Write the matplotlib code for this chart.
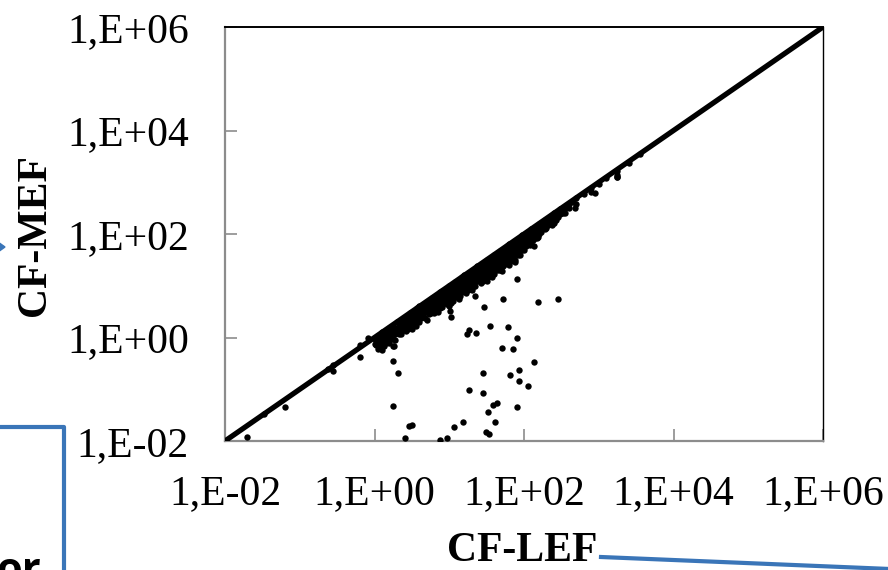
import numpy as np
import matplotlib.pyplot as plt
from matplotlib.lines import Line2D
from matplotlib.patches import Polygon
from matplotlib.ticker import FixedLocator, FixedFormatter

# limites de los ejes y etiquetas (estilo Excel, coma decimal)
lim = [1e-2, 1e6]
tick_vals = [1e-2, 1e0, 1e2, 1e4, 1e6]
tick_txt = ["1,E-02", "1,E+00", "1,E+02", "1,E+04", "1,E+06"]
x_title = "CF-LEF"
y_title = "CF-MEF"

# nube principal: log10(CF-LEF) y distancia (en decadas) por debajo de la recta 1:1
band = [
    (0.00, [0.02, 0.12]), (0.05, [0.05, 0.18, 0.28]), (0.10, [0.00, 0.10, 0.22, 0.35]),
    (0.15, [0.03, 0.14, 0.26]), (0.20, [0.01, 0.09, 0.20, 0.31]), (0.25, [0.04, 0.15, 0.27, 0.42]),
    (0.30, [0.00, 0.11, 0.21]), (0.35, [0.06, 0.17, 0.29]), (0.40, [0.02, 0.12, 0.24]),
    (0.45, [0.05, 0.15, 0.28]), (0.50, [0.01, 0.10, 0.20, 0.33]), (0.55, [0.04, 0.16, 0.26, 0.33]),
    (0.60, [0.00, 0.09, 0.19, 0.30]), (0.65, [0.03, 0.13, 0.24]), (0.70, [0.01, 0.11, 0.21, 0.36]),
    (0.75, [0.05, 0.16, 0.27]), (0.80, [0.02, 0.12, 0.22, 0.32]), (0.85, [0.04, 0.14, 0.25, 0.35]),
    (0.90, [0.00, 0.10, 0.20, 0.31]), (0.95, [0.03, 0.15, 0.26]), (1.00, [0.01, 0.09, 0.19, 0.29, 0.40]),
    (1.05, [0.05, 0.14, 0.24, 0.34]), (1.10, [0.02, 0.11, 0.21, 0.32]), (1.15, [0.04, 0.13, 0.23, 0.35]),
    (1.20, [0.00, 0.10, 0.20, 0.30]), (1.25, [0.03, 0.12, 0.22, 0.33]), (1.30, [0.01, 0.09, 0.18, 0.28, 0.38]),
    (1.35, [0.05, 0.15, 0.25, 0.35, 0.54]), (1.40, [0.02, 0.11, 0.21, 0.31]), (1.45, [0.04, 0.14, 0.24, 0.36]),
    (1.50, [0.00, 0.10, 0.19, 0.29, 0.40]), (1.55, [0.03, 0.13, 0.23, 0.33]), (1.60, [0.01, 0.09, 0.18, 0.27, 0.37]),
    (1.65, [0.05, 0.15, 0.25, 0.34]), (1.70, [0.02, 0.11, 0.20, 0.30, 0.42]), (1.75, [0.04, 0.14, 0.24, 0.33]),
    (1.80, [0.00, 0.09, 0.18, 0.28, 0.39]), (1.85, [0.03, 0.12, 0.22, 0.32]), (1.90, [0.01, 0.10, 0.19, 0.29]),
    (1.95, [0.05, 0.14, 0.24, 0.36]), (2.00, [0.02, 0.11, 0.21, 0.30]), (2.05, [0.04, 0.13, 0.23]),
    (2.10, [0.00, 0.09, 0.18, 0.27]), (2.15, [0.03, 0.12, 0.22]), (2.20, [0.01, 0.10, 0.20]),
    (2.25, [0.05, 0.14]), (2.30, [0.02, 0.11, 0.19]), (2.35, [0.04, 0.13]),
    (2.40, [0.00, 0.08, 0.18]), (2.45, [0.03, 0.12]), (2.50, [0.01, 0.09]),
    (2.55, [0.05, 0.15]), (2.60, [0.02, 0.10]), (2.65, [0.04]), (2.70, [0.01, 0.12]),
    (2.80, [0.03]), (2.90, [0.02, 0.09]), (3.00, [0.04]), (3.10, [0.01]),
    (3.25, [0.03, 0.14]), (3.40, [0.02]), (3.55, [0.00]),
    # relleno entre columnas (zona mas densa)
    (0.025, [0.07, 0.17]), (0.075, [0.03, 0.13, 0.24]), (0.125, [0.06, 0.17, 0.29]),
    (0.175, [0.08, 0.20]), (0.225, [0.05, 0.15, 0.25]), (0.275, [0.09, 0.21, 0.33]),
    (0.325, [0.05, 0.16, 0.26]), (0.375, [0.01, 0.11, 0.23]), (0.425, [0.07, 0.18, 0.30]),
    (0.475, [0.00, 0.10, 0.21]), (0.525, [0.06, 0.15, 0.26]), (0.575, [0.01, 0.10, 0.21]),
    (0.625, [0.05, 0.14, 0.25]), (0.675, [0.08, 0.18, 0.29]), (0.725, [0.05, 0.16, 0.28]),
    (0.775, [0.01, 0.10, 0.21]), (0.825, [0.07, 0.17, 0.27]), (0.875, [0.00, 0.09, 0.19, 0.30]),
    (0.925, [0.05, 0.15, 0.25]), (0.975, [0.08, 0.20, 0.33]), (1.025, [0.04, 0.14, 0.24, 0.35]),
    (1.075, [0.00, 0.09, 0.19, 0.29]), (1.125, [0.06, 0.16, 0.26, 0.38]), (1.175, [0.01, 0.08, 0.18, 0.29]),
    (1.225, [0.05, 0.15, 0.25, 0.36]), (1.275, [0.07, 0.17, 0.27]), (1.325, [0.04, 0.13, 0.23, 0.33]),
    (1.375, [0.00, 0.08, 0.19, 0.29]), (1.425, [0.06, 0.16, 0.26, 0.37]), (1.475, [0.02, 0.09, 0.19, 0.30]),
    (1.525, [0.05, 0.15, 0.25, 0.35]), (1.575, [0.08, 0.18, 0.28, 0.40]), (1.625, [0.04, 0.13, 0.22, 0.32]),
    (1.675, [0.00, 0.09, 0.19, 0.29, 0.38]), (1.725, [0.06, 0.16, 0.25, 0.35]), (1.775, [0.01, 0.09, 0.19, 0.29]),
    (1.825, [0.05, 0.14, 0.23, 0.34]), (1.875, [0.07, 0.17, 0.27, 0.37]), (1.925, [0.04, 0.14, 0.24, 0.33]),
    (1.975, [0.00, 0.09, 0.19, 0.29]), (2.025, [0.06, 0.16, 0.26]), (2.075, [0.01, 0.08, 0.18, 0.29]),
    (2.125, [0.05, 0.15, 0.24]), (2.175, [0.07, 0.16, 0.26]), (2.225, [0.02, 0.09, 0.18]),
    (2.275, [0.00, 0.08, 0.17]), (2.325, [0.06, 0.15]), (2.375, [0.01, 0.09, 0.20]),
    (2.425, [0.06, 0.15]), (2.475, [0.00, 0.08]), (2.525, [0.04, 0.12]),
]

# puntos sueltos (log10 CF-LEF, log10 CF-MEF)
sueltos_x = [-1.70, -1.48, -1.20, -0.62, -0.555, -0.555, -0.19, -0.087, -0.19,
             0.25, 0.31, 0.25, 0.46, 0.50, 0.41, 0.88, 0.97, 1.06, 1.18, 1.26,
             1.45, 1.45, 1.24, 1.26, 1.36, 1.46, 1.55, 1.52, 1.59, 1.64, 1.61,
             1.49, 1.53, 1.71, 1.72, 1.79, 1.81, 1.85, 1.91, 1.91, 1.93, 1.93,
             1.91, 2.05, 2.13, 2.13, 2.19, 2.45, 1.88, 2.19, 2.39, 2.68, 2.95,
             3.24, 3.24, 1.02, 1.01, 0.26]
sueltos_y = [-1.92, -1.47, -1.34, -0.61, -0.53, -0.65, -0.145, -0.01, -0.38,
             -0.45, -0.69, -1.32, -1.71, -1.69, -1.94, -1.98, -1.94, -1.73, -1.63, -1.01,
             -0.69, -1.07, 0.07, 0.15, 0.09, 0.59, 0.22, -1.44, -1.30, -1.27, -1.63,
             -1.83, -1.86, -0.20, 0.74, 0.20, -0.72, -0.22, 1.13, -0.01, -0.63, -0.84,
             -1.34, -0.94, -0.47, 1.77, 0.69, 0.74, 1.46, 1.94, 2.21, 2.50, 2.79,
             3.10, 3.14, 0.40, 0.51, -0.16]

lef = []
mef = []
for lx, gaps in band:
    for g in gaps:
        lef.append(10 ** lx)
        mef.append(10 ** (lx - g))
for a, b in zip(sueltos_x, sueltos_y):
    lef.append(10 ** a)
    mef.append(10 ** b)

W, H = 888, 570
fig = plt.figure(figsize=(W / 100, H / 100), dpi=100)
ax = fig.add_axes([225 / W, (H - 441) / H, 598 / W, 414 / H])

ax.plot(lef, mef, 'o', color='black', markersize=4.6, markeredgewidth=0, zorder=3)
ax.plot(lim, lim, color='black', linewidth=3.8, solid_capstyle='butt', zorder=4)

ax.set_xscale('log')
ax.set_yscale('log')
ax.set_xlim(lim)
ax.set_ylim(lim)

for a in (ax.xaxis, ax.yaxis):
    a.set_major_locator(FixedLocator(tick_vals))
    a.set_major_formatter(FixedFormatter(tick_txt))
    a.set_minor_locator(FixedLocator([]))

gris = '#8c8c8c'
ax.tick_params(direction='in', length=8.5, width=1.2, color=gris,
               labelsize=30, pad=26)
ax.tick_params(axis='x', pad=24)
for lab in ax.get_xticklabels() + ax.get_yticklabels():
    lab.set_family('Liberation Serif')

ax.spines['left'].set_color(gris)
ax.spines['bottom'].set_color(gris)
ax.spines['left'].set_linewidth(1.6)
ax.spines['bottom'].set_linewidth(1.6)
ax.spines['top'].set_color('black')
ax.spines['right'].set_color('black')
ax.spines['top'].set_linewidth(1.4)
ax.spines['right'].set_linewidth(1.0)

fig.text(522 / W, 1 - 551 / H, x_title, family='Liberation Serif', weight='bold',
         fontsize=30, ha='center', va='center')
fig.text(35 / W, 1 - 235 / H, y_title, family='Liberation Serif', weight='bold',
         fontsize=30, ha='center', va='center', rotation=90)

# restos de las cajas/flechas azules de la figura original (recortadas)
azul = '#3a75b8'
def px(x, y):
    return x / W, 1 - y / H
fig.add_artist(Line2D(*zip(px(0, 427), px(64, 427), px(64, 575)), color=azul, linewidth=3.0))
fig.add_artist(Line2D(*zip(px(601, 557), px(890, 569)), color=azul, linewidth=3.0))
fig.add_artist(Polygon([px(-2, 242), px(5, 247), px(-2, 252)], closed=True,
                       transform=fig.transFigure, color=azul))
fig.text(-4 / W, 1 - 582 / H, "or", family='Open Sans', weight='bold', fontsize=30,
         ha='left', va='baseline')

fig.savefig("out.png", dpi=100)
